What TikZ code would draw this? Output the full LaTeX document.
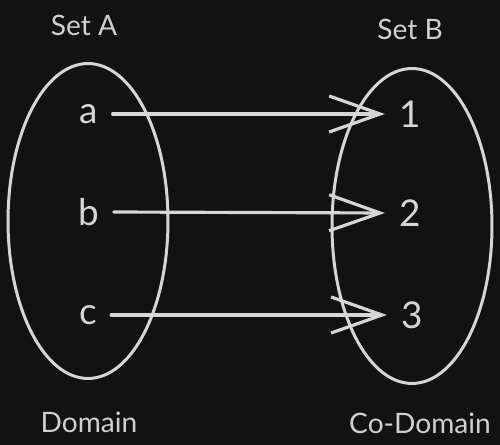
\documentclass[tikz,border=0pt]{standalone}
\usepackage{xcolor}
\usepackage{fontspec}
\setmainfont{Lato}
\usepackage{tikz}
\usetikzlibrary{shapes, arrows.meta, positioning}

\definecolor{bgdark}{HTML}{121212}
\definecolor{inkgray}{HTML}{D6D6D6}
\definecolor{labelgray}{HTML}{D0D0D0}

\begin{document}
\begin{tikzpicture}[x=0.02cm, y=-0.02cm,
    setoval/.style={draw=inkgray, line width=1.7pt, ellipse, minimum width=3.2cm, minimum height=6.3cm},
    elem/.style={text=inkgray, font=\fontsize{21}{24}\selectfont, inner sep=8pt},
    setlabel/.style={text=labelgray, font=\fontsize{16}{19}\selectfont},
    maparrow/.style={draw=inkgray, line width=1.8pt, line cap=round, -{Straight Barb[length=1.02cm, width=0.72cm]}}]
            \useasboundingbox (0,0) rectangle (500,445);
            \fill[bgdark] (0,0) rectangle (500,445);

            % the two sets
            \node[setoval] (setA) at (88,221) {};
            \node[setoval] (setB) at (412,226) {};

            % elements
            \node[elem] (a) at (89,114) {a};
            \node[elem] (b) at (89,212) {b};
            \node[elem] (c) at (88,315) {c};
            \node[elem] (one) at (410,114) {1};
            \node[elem] (two) at (410,213) {2};
            \node[elem] (three) at (412,315) {3};

            % labels
            \node[setlabel] (labA) at (84,25) {Set A};
            \node[setlabel] (labB) at (410,29) {Set B};
            \node[setlabel] (dom) at (89,422) {Domain};
            \node[setlabel] (codom) at (420,423) {Co-Domain};

            % mapping
            \draw[maparrow] (a.east) -- (one.west);
            \draw[maparrow] (b.east) -- (two.west);
            \draw[maparrow] (c.east) -- (three.west);
        \end{tikzpicture}
\end{document}
